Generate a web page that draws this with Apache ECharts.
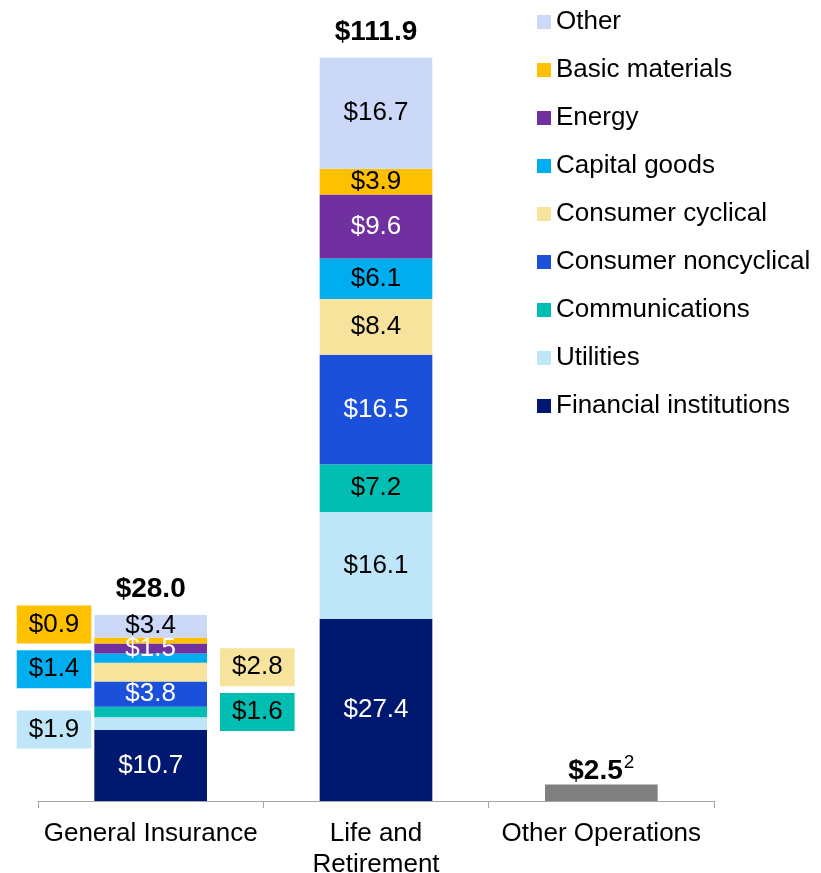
<!DOCTYPE html>
<html>
<head>
<meta charset="utf-8">
<script src="https://cdn.jsdelivr.net/npm/echarts@6/dist/echarts.min.js"></script>
<style>
  html, body { margin: 0; padding: 0; background: #fff; }
  #chart { width: 821px; height: 873px; }
</style>
</head>
<body>
<div id="chart"></div>
<script>
// categories (x axis)
const categories = ['General Insurance', 'Life and\nRetirement', 'Other Operations']

// sector values, $bn, [General Insurance, Life and Retirement, Other Operations]
const financialInstitutions = [10.7, 27.4, null]
const utilities = [1.9, 16.1, null]
const communications = [1.6, 7.2, null]
const consumerNoncyclical = [3.8, 16.5, null]
const consumerCyclical = [2.8, 8.4, null]
const capitalGoods = [1.4, 6.1, null]
const energy = [1.5, 9.6, null]
const basicMaterials = [0.9, 3.9, null]
const other = [3.4, 16.7, null]
const otherOperations = [null, null, 2.5]
const totals = [28.0, 111.9, 2.5]

// stack order bottom -> top
const sectors = [
  { name: 'Financial institutions', data: financialInstitutions, color: '#00186F', text: '#fff' },
  { name: 'Utilities', data: utilities, color: '#BFE6F8', text: '#000' },
  { name: 'Communications', data: communications, color: '#00BFB2', text: '#000' },
  { name: 'Consumer noncyclical', data: consumerNoncyclical, color: '#1A50DA', text: '#fff' },
  { name: 'Consumer cyclical', data: consumerCyclical, color: '#F8E39D', text: '#000' },
  { name: 'Capital goods', data: capitalGoods, color: '#00AEEF', text: '#000' },
  { name: 'Energy', data: energy, color: '#7030A0', text: '#fff' },
  { name: 'Basic materials', data: basicMaterials, color: '#FFC000', text: '#000' },
  { name: 'Other', data: other, color: '#CBD8F7', text: '#000' }
]

// small General Insurance slices get their label in a box beside the bar
const outsideLabels = {
  'Utilities': { position: 'left', offset: [0, 6] },
  'Communications': { position: 'right', offset: [0, 0] },
  'Consumer cyclical': { position: 'right', offset: [0, -5] },
  'Capital goods': { position: 'left', offset: [0, 11] },
  'Basic materials': { position: 'left', offset: [0, -16] }
}

const FONT = '"Liberation Sans", Arial, sans-serif'
const FS = 26
const fmt = v => '$' + v.toFixed(1)

const chart = echarts.init(document.getElementById('chart'))

const series = sectors.map(s => ({
  name: s.name,
  type: 'bar',
  stack: 'all',
  barWidth: '50%',
  itemStyle: { color: s.color },
  label: {
    show: true,
    position: 'inside',
    color: s.text,
    fontSize: FS,
    fontFamily: FONT,
    formatter: p => fmt(p.value)
  },
  data: s.data.map((v, i) => {
    const o = outsideLabels[s.name]
    if (i === 0 && o) {
      return {
        value: v,
        label: {
          position: o.position,
          distance: o.position === 'left' ? 3 : 13,
          offset: o.offset,
          color: '#000',
          backgroundColor: s.color,
          padding: [7, 12, 5, 12],
          lineHeight: 26
        }
      }
    }
    return v
  })
}))

series.push({
  name: 'Other Operations',
  type: 'bar',
  stack: 'all',
  barWidth: '50%',
  itemStyle: { color: '#808080' },
  data: otherOperations
})

// zero-height bar on top of each stack carries the total
series.push({
  name: 'Total',
  type: 'bar',
  stack: 'all',
  barWidth: '50%',
  itemStyle: { color: 'transparent' },
  label: {
    show: true,
    position: 'top',
    distance: 12,
    fontFamily: FONT,
    formatter: p => p.dataIndex === 2
      ? '{b|' + fmt(totals[p.dataIndex]) + '}{s|2}'
      : '{b|' + fmt(totals[p.dataIndex]) + '}',
    rich: {
      b: { fontSize: 28, fontWeight: 'bold', color: '#000', fontFamily: FONT },
      s: { fontSize: 19, color: '#000', fontFamily: FONT, padding: [0, 0, 16, 1] }
    }
  },
  data: totals.map((t, i) => i === 2 ? { value: 0, label: { distance: -4 } } : 0)
})

chart.setOption({
  animation: false,
  grid: { left: 38, right: 107, top: 4, bottom: 72, outerBoundsMode: 'none' },
  legend: {
    orient: 'vertical',
    left: 537,
    top: 9,
    padding: 0,
    icon: 'rect',
    itemWidth: 14,
    itemHeight: 14,
    itemGap: 22,
    textStyle: { fontSize: FS, fontFamily: FONT, color: '#000', lineHeight: 26 },
    data: sectors.map(s => s.name).reverse()
  },
  xAxis: {
    type: 'category',
    data: categories,
    axisLine: { lineStyle: { color: '#A6A6A6', width: 1 } },
    axisTick: { show: true, length: 7, lineStyle: { color: '#A6A6A6' } },
    axisLabel: {
      fontSize: FS,
      fontFamily: FONT,
      color: '#000',
      margin: 17,
      lineHeight: 31,
      interval: 0
    }
  },
  yAxis: {
    type: 'value',
    min: 0,
    max: 120,
    show: false,
    splitLine: { show: false }
  },
  series: series
})
</script>
</body>
</html>
